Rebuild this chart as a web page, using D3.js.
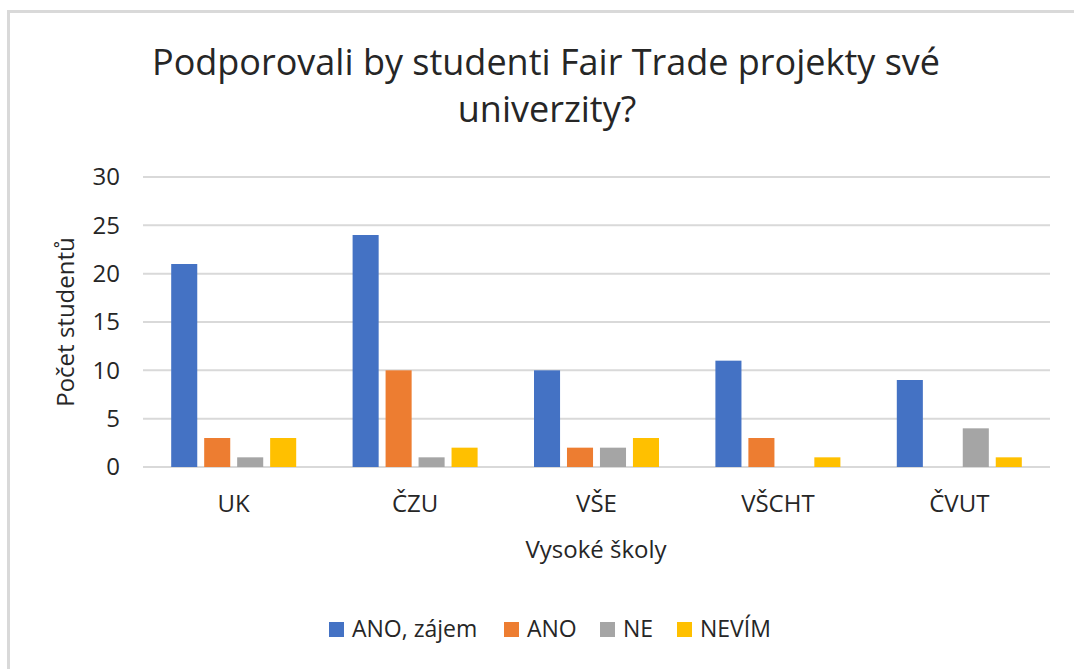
<!DOCTYPE html>
<html>
<head>
<meta charset="utf-8">
<script src="https://cdn.jsdelivr.net/npm/d3@7"></script>
<style>
	body { margin: 0; background: #fff; }
	text { font-family: "Open Sans", "Noto Sans", sans-serif; fill: #262626; }
</style>
</head>
<body>
<div id="chart"></div>
<script>
// data
var schools = ["UK", "ČZU", "VŠE", "VŠCHT", "ČVUT"];
var seriesNames = ["ANO, zájem", "ANO", "NE", "NEVÍM"];
var anoZajem = [21, 24, 10, 11, 9];
var ano = [3, 10, 2, 3, 0];
var ne = [1, 1, 2, 0, 4];
var nevim = [3, 2, 3, 1, 1];
var yTicks = [0, 5, 10, 15, 20, 25, 30];
var colors = ["#4472C4", "#ED7D31", "#A5A5A5", "#FFC000"];

var width = 1074, height = 669;
var values = [anoZajem, ano, ne, nevim];

var svg = d3.select("#chart").append("svg")
	.attr("width", width)
	.attr("height", height);

// chart frame
svg.append("rect")
	.attr("x", 8.5)
	.attr("y", 11.5)
	.attr("width", 1080)
	.attr("height", 700)
	.attr("fill", "none")
	.attr("stroke", "#d9d9d9")
	.attr("stroke-width", 3);

var plotLeft = 143, plotRight = 1050, plotTop = 177, plotBottom = 467;

var x0 = d3.scaleBand().domain(schools).range([plotLeft, plotRight]);
var x1 = d3.scaleBand().domain(d3.range(4)).range([0, 125]).paddingInner(0.21);
var y = d3.scaleLinear().domain([0, 30]).range([plotBottom, plotTop]);

// gridlines
svg.append("g")
	.selectAll("line")
	.data(yTicks)
	.enter()
	.append("line")
	.attr("x1", plotLeft)
	.attr("x2", plotRight)
	.attr("y1", function(d) { return y(d); })
	.attr("y2", function(d) { return y(d); })
	.attr("stroke", "#d9d9d9")
	.attr("stroke-width", 2);

var yAxis = svg.append("g")
	.attr("transform", "translate(120,0)")
	.call(d3.axisLeft(y).tickValues(yTicks).tickSize(0).tickPadding(0));
yAxis.select(".domain").remove();
yAxis.selectAll("text")
	.attr("font-size", 24)
	.style("font-family", "'Open Sans', sans-serif")
	.attr("fill", "#262626");

// bars
var groups = svg.append("g")
	.selectAll("g")
	.data(schools)
	.enter()
	.append("g")
	.attr("transform", function(d) { return "translate(" + (x0(d) + x0.bandwidth() / 2 - 62.5) + ",0)"; });

groups.selectAll("rect")
	.data(function(d, i) { return values.map(function(s, k) { return { k: k, v: s[i] }; }); })
	.enter()
	.append("rect")
	.attr("x", function(d) { return x1(d.k); })
	.attr("width", x1.bandwidth())
	.attr("y", function(d) { return y(d.v); })
	.attr("height", function(d) { return y(0) - y(d.v); })
	.attr("fill", function(d) { return colors[d.k]; });

var xAxis = svg.append("g")
	.attr("transform", "translate(0,512)")
	.call(d3.axisBottom(x0).tickSize(0).tickPadding(0));
xAxis.select(".domain").remove();
xAxis.selectAll("text")
	.attr("font-size", 24)
	.attr("dy", 0)
	.style("font-family", "'Open Sans', sans-serif")
	.attr("fill", "#262626");

// titles
svg.append("text")
	.attr("x", 546)
	.attr("y", 75)
	.attr("text-anchor", "middle")
	.attr("font-size", 36)
	.text("Podporovali by studenti Fair Trade projekty své");
svg.append("text")
	.attr("x", 547)
	.attr("y", 122)
	.attr("text-anchor", "middle")
	.attr("font-size", 36)
	.text("univerzity?");

svg.append("text")
	.attr("transform", "translate(74," + ((plotTop + plotBottom) / 2) + ") rotate(-90)")
	.attr("text-anchor", "middle")
	.attr("font-size", 24)
	.text("Počet studentů");

svg.append("text")
	.attr("x", 596)
	.attr("y", 558)
	.attr("text-anchor", "middle")
	.attr("font-size", 24)
	.text("Vysoké školy");

// legend
var legendX = [329, 504, 600, 677];
var legend = svg.append("g")
	.selectAll("g")
	.data(seriesNames)
	.enter()
	.append("g")
	.attr("transform", function(d, i) { return "translate(" + legendX[i] + ",622)"; });
legend.append("rect")
	.attr("width", 15)
	.attr("height", 15)
	.attr("fill", function(d, i) { return colors[i]; });
legend.append("text")
	.attr("x", 23)
	.attr("y", 15)
	.attr("font-size", 23)
	.text(function(d) { return d; });
</script>
</body>
</html>
